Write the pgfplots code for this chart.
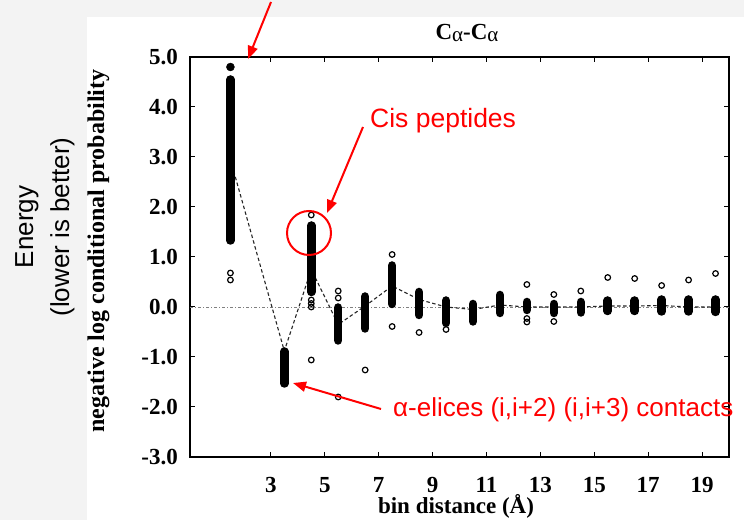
\documentclass[border=0pt]{standalone}
\usepackage{fontspec}
\setmainfont{Liberation Serif}
\newfontfamily\arialfont{Liberation Sans}
\usepackage{pgfplots}
\usepackage{pgfplotstable}
\pgfplotsset{compat=1.18}
\usetikzlibrary{arrows.meta}
\definecolor{slidegray}{HTML}{F3F3F3}
\definecolor{annred}{HTML}{FF0000}

% dense columns: segment ends (nan separates columns)
\pgfplotstableread{
x y
1.5 1.33
1.5 4.55
1.5 nan
3.5 -1.53
3.5 -0.89
3.5 nan
4.5 0.30
4.5 1.63
4.5 nan
5.5 -0.67
5.5 -0.01
5.5 nan
6.5 -0.43
6.5 0.21
6.5 nan
7.5 0.06
7.5 0.83
7.5 nan
8.5 -0.16
8.5 0.30
8.5 nan
9.5 -0.32
9.5 0.13
9.5 nan
10.5 -0.29
10.5 0.06
10.5 nan
11.5 -0.12
11.5 0.24
11.5 nan
12.5 -0.06
12.5 0.10
12.5 nan
13.5 -0.12
13.5 0.06
13.5 nan
14.5 -0.11
14.5 0.10
14.5 nan
15.5 -0.08
15.5 0.13
15.5 nan
16.5 -0.08
16.5 0.13
16.5 nan
17.5 -0.09
17.5 0.15
17.5 nan
18.5 -0.09
18.5 0.15
18.5 nan
19.5 -0.10
19.5 0.15
}\columnsdata

\pgfplotstableread{
x y
1.5 0.68
1.5 0.54
4.5 1.84
4.5 0.14
4.5 0.07
4.5 0.00
4.5 -1.06
5.5 0.32
5.5 0.18
5.5 -1.80
6.5 -1.26
7.5 1.05
7.5 -0.39
8.5 -0.51
9.5 -0.45
12.5 0.45
12.5 -0.23
12.5 -0.30
13.5 0.25
13.5 -0.29
14.5 0.32
15.5 0.59
16.5 0.57
17.5 0.43
18.5 0.54
19.5 0.67
}\outliers

\pgfplotstableread{
x y
1.5 2.95
3.5 -0.88
4.5 0.75
5.5 -0.35
6.5 0.02
7.5 0.42
8.5 0.15
9.5 0.00
10.5 -0.05
11.5 0.04
12.5 0.00
13.5 0.00
14.5 0.00
15.5 0.02
16.5 0.02
17.5 0.03
18.5 0.00
19.5 0.00
}\means

\begin{document}
\begin{tikzpicture}[x=1bp,y=1bp]
\path[use as bounding box, fill=slidegray] (0,0) rectangle (744,520);
\fill[white] (87,0) rectangle (744,503);

\begin{axis}[
  at={(190bp,63bp)}, anchor=south west,
  width=539bp, height=400bp, scale only axis,
  xmin=0, xmax=20, ymin=-3, ymax=5,
  xtick={3,5,7,9,11,13,15,17,19},
  xticklabels={3,5,7,9,11,13,15,17,19},
  ytick={-3,-2,-1,0,1,2,3,4,5},
  yticklabels={-3.0,-2.0,-1.0,0.0,1.0,2.0,3.0,4.0,5.0},
  tick align=inside, major tick length=5bp,
  axis line style={line width=1.3bp},
  tick style={line width=1bp, black},
  ticklabel style={font=\fontsize{23bp}{27bp}\selectfont\bfseries},
  xticklabel style={anchor=north, inner sep=0pt, yshift=-20bp},
  yticklabel style={anchor=east, inner sep=0pt, xshift=-12bp},
  unbounded coords=jump,
]
\addplot[gray, line width=0.8bp, dash pattern=on 3bp off 2bp on 1bp off 2bp] coordinates {(0,0) (20,0)};
\addplot[black!85, line width=1.1bp, dash pattern=on 3.5bp off 2.5bp] table[x=x,y=y] {\means};
\addplot[black, line width=8.5bp, line cap=round] table[x=x,y=y] {\columnsdata};
\addplot[only marks, mark=o, mark size=2.8bp, mark options={line width=1.2bp, black}] table[x=x,y=y] {\outliers};
\addplot[only marks, mark=*, mark size=4bp, black] coordinates {(1.5,4.80)};
\end{axis}

% axis labels and title
\node[rotate=90, anchor=base, font=\fontsize{24bp}{28bp}\selectfont\bfseries] at (104,269) {negative log conditional probability};
\node[anchor=base, font=\fontsize{23bp}{27bp}\selectfont\bfseries] at (456,6) {bin distance (Å)};
\node[anchor=base, font=\fontsize{23bp}{26bp}\selectfont\bfseries] at (467,480) {C{\fontsize{21bp}{24bp}\selectfont\mdseries\raisebox{-1.5bp}{α}}-C{\fontsize{21bp}{24bp}\selectfont\mdseries\raisebox{-1.5bp}{α}}};

% slide annotations
\node[rotate=90, anchor=base, font=\arialfont\fontsize{26bp}{30bp}\selectfont] at (33,293) {Energy};
\node[rotate=90, anchor=base, font=\arialfont\fontsize{26bp}{30bp}\selectfont] at (69,293) {(lower is better)};
\node[anchor=base west, inner sep=0pt, text=annred, font=\arialfont\fontsize{26.5bp}{30bp}\selectfont] at (370,392) {Cis peptides};
\node[anchor=base west, inner sep=0pt, text=annred, font=\arialfont\fontsize{26bp}{30bp}\selectfont] at (393,103) {α-elices (i,i+2) (i,i+3) contacts};

\draw[annred, line width=2bp, -{Triangle[length=13bp,width=10bp]}] (271,518) -- (248,461);
\draw[annred, line width=2bp, -{Triangle[length=13bp,width=10bp]}] (363,393) -- (327,307);
\draw[annred, line width=2bp, -{Triangle[length=13bp,width=10bp]}] (381,111) -- (293,137);
\draw[annred, line width=2bp] (309,287) circle [radius=22];
\end{tikzpicture}
\end{document}
